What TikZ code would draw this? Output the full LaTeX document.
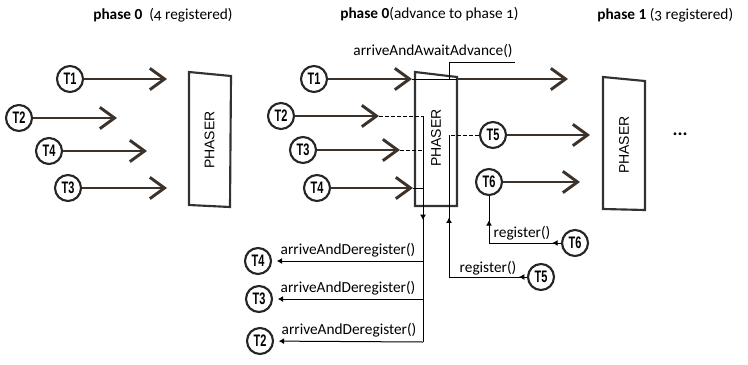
\documentclass[tikz,border=0pt]{standalone}
\usepackage{fontspec}
\setmainfont{Carlito}
\newfontfamily\oldnum{Carlito}[Numbers=OldStyle]
\newfontfamily\narrowbold{Liberation Sans}[UprightFont={* Bold}, FakeStretch=0.66]
\newfontfamily\boxfont{Liberation Sans}
\usetikzlibrary{arrows.meta, decorations.markings}
\definecolor{ThreadBrown}{RGB}{60,50,42}
\definecolor{BoxGray}{RGB}{50,50,50}

\begin{document}
\begin{tikzpicture}[
    x=0.75pt, y=-0.75pt,
    font=\fontsize{11.5}{13}\selectfont,
    thr/.style={circle, draw=black!85, fill=white, line width=1.6pt, minimum size=19.5pt, inner sep=0pt, font=\narrowbold\fontsize{12.5}{12.5}\selectfont},
    thread/.style={-{Straight Barb[length=11pt,width=16pt]}, line width=2.2pt, ThreadBrown},
    phaser/.style={draw=BoxGray, line width=1.6pt, fill=white},
    boxlabel/.style={rotate=90, font=\boxfont\fontsize{10.5}{12}\selectfont},
    link/.style={line width=0.75pt},
    waitlink/.style={link, dash pattern=on 3pt off 1.5pt},
    call/.style={link, -{Latex[length=4pt,width=4.5pt]}, shorten >=3.5pt},
    midtip/.style={postaction={decorate, decoration={markings, mark=at position #1 with {\arrow{Latex[length=4pt,width=4.5pt]}}}}},
    headline/.style={anchor=west, inner sep=0pt}
  ]
  \useasboundingbox (0,0) rectangle (748,364);

  % phase 0, four parties registered
  \node[headline] (head0) at (93,15) {\textbf{phase 0}\ \ {\oldnum(4 registered)}};
  \draw[phaser] (189,72) -- (231,76) -- (230,207) -- (189,205) -- cycle;
  \node[boxlabel] (ph0) at (209.5,140) {PHASER};

  \node[thr] (a1) at (70,79) {T1};
  \node[thr] (a2) at (19,118) {T2};
  \node[thr] (a4) at (49,151) {T4};
  \node[thr] (a3) at (68,188) {T3};
  \coordinate (a1 end) at (167,79);
  \coordinate (a2 end) at (117,118);
  \coordinate (a4 end) at (147,151);
  \coordinate (a3 end) at (167,188);
  \draw[thread] (a1) -- (a1 end);
  \draw[thread] (a2) -- (a2 end);
  \draw[thread] (a4) -- (a4 end);
  \draw[thread] (a3) -- (a3 end);

  % phase 0 -> phase 1
  \node[headline] (head1) at (340,14) {\textbf{phase 0}{\oldnum(advance to phase 1)}};
  \draw[phaser] (415,72) -- (457,77) -- (457,206) -- (415,206) -- cycle;
  \node[boxlabel] (ph1) at (436,138) {PHASER};

  \node[thr] (b1) at (314,79) {T1};
  \node[thr] (b2) at (281,116) {T2};
  \node[thr] (b3) at (303,150) {T3};
  \node[thr] (b4) at (317,188) {T4};
  \node[thr] (b5) at (493,135) {T5};
  \node[thr] (b6) at (489,182) {T6};

  \coordinate (b1 end) at (412,79);
  \coordinate (b1 out) at (457,79);
  \coordinate (b1 far) at (568,79);
  \coordinate (b2 end) at (379,116);
  \coordinate (b3 end) at (400,150);
  \coordinate (b4 end) at (413,188);
  \coordinate (b5 end) at (590,135);
  \coordinate (b6 end) at (580,182);

  \draw[thread] (b1) -- (b1 end);
  \draw[link] (b1 end) -- (b1 out);
  \draw[thread] (b1 out) -- (b1 far);
  \draw[thread] (b2) -- (b2 end);
  \draw[thread] (b3) -- (b3 end);
  \draw[thread] (b4) -- (b4 end);
  \draw[thread] (b5) -- (b5 end);
  \draw[thread] (b6) -- (b6 end);

  % arriveAndAwaitAdvance
  \coordinate (await) at (449,79);
  \coordinate (await top) at (449,62);
  \coordinate (await end) at (515,62);
  \node (waitlbl) at (433,51) {arriveAndAwaitAdvance()};
  \draw[link] (await) -- (await top) -- (await end);

  % deregistering parties
  \coordinate (bus top) at (423,116);
  \coordinate (bus end) at (423,342);
  \node[thr] (c4) at (258,261) {T4};
  \node[thr] (c3) at (259,299) {T3};
  \node[thr] (c2) at (260,341) {T2};
  \draw[waitlink] (b2 end) -- (bus top);
  \draw[waitlink] (b3 end) -- (bus top |- b3);
  \draw[link] (b4 end) -- (bus top |- b4);
  \draw[link, midtip=78pt] (bus top) -- (bus end);
  \draw[call] (bus top |- 0,261) -- (c4);
  \draw[call] (bus top |- c3) -- (c3);
  \draw[call] (bus end) -- (c2);
  \node (d4) at (348,250) {arriveAndDeregister()};
  \node (d3) at (348,288) {arriveAndDeregister()};
  \node (d2) at (349,330) {arriveAndDeregister()};

  % registering parties
  \coordinate (reg5) at (449,135);
  \node[thr] (r5) at (541,277) {T5};
  \node[thr] (r6) at (575,243) {T6};
  \draw[waitlink] (b5) -- (reg5);
  \draw[link, midtip=6pt, midtip=103pt] (r5) -- (reg5 |- r5) -- (reg5);
  \draw[link, midtip=6.5pt, midtip=71pt] (r6) -- (b6 |- r6) -- (b6);
  \node (g5) at (488,268) {register()};
  \node (g6) at (522,233) {register()};

  % phase 1, three parties registered
  \node[headline] (head2) at (597,15) {\textbf{phase 1} {\oldnum(3 registered)}};
  \draw[phaser] (603,77) -- (645,81) -- (645,210) -- (603,209) -- cycle;
  \node[boxlabel] (ph2) at (624,145) {PHASER};
  \node[font=\bfseries\fontsize{14}{14}\selectfont] (more) at (680,134) {...};
\end{tikzpicture}
\end{document}
